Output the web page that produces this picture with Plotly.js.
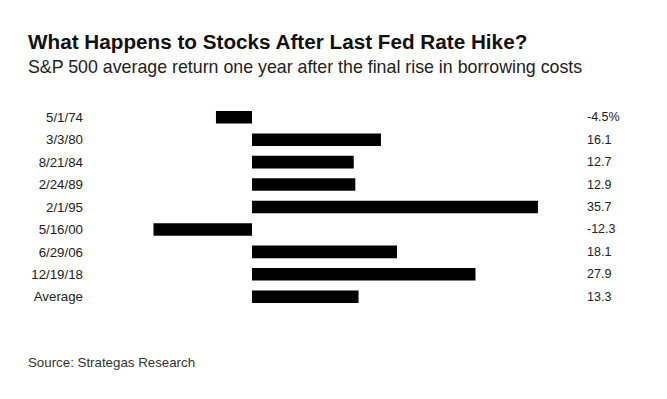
<!DOCTYPE html>
<html>
<head>
<meta charset="utf-8">
<script src="https://cdn.plot.ly/plotly-3.0.1.min.js"></script>
<style>body{margin:0;background:#fff;}#chart{width:667px;height:399px;}</style>
</head>
<body>
<div id="chart"></div>
<script>
const categories = ["5/1/74", "3/3/80", "8/21/84", "2/24/89", "2/1/95", "5/16/00", "6/29/06", "12/19/18", "Average"];
const returns = [-4.5, 16.1, 12.7, 12.9, 35.7, -12.3, 18.1, 27.9, 13.3];
const valueLabels = ["-4.5%", "16.1", "12.7", "12.9", "35.7", "-12.3", "18.1", "27.9", "13.3"];
const titleText = "What Happens to Stocks After Last Fed Rate Hike?";
const subtitleText = "S&P 500 average return one year after the final rise in borrowing costs";
const sourceText = "Source: Strategas Research";

const fontFam = "Liberation Sans, Arial, sans-serif";
const labelX = 41.6;

const annotations = categories.map((c, i) => ({
  x: labelX, y: c, xref: "x", yref: "y", text: valueLabels[i],
  showarrow: false, xanchor: "left", yanchor: "middle",
  font: {family: fontFam, size: 12.5, color: "#222"}
}));
annotations.push({
  x: 26/667, y: 1 - 67/399, xref: "paper", yref: "paper", text: subtitleText,
  showarrow: false, xanchor: "left", yanchor: "middle",
  font: {family: fontFam, size: 17.8, color: "#222"}
});
annotations.push({
  x: 26/667, y: 1 - 362/399, xref: "paper", yref: "paper", text: sourceText,
  showarrow: false, xanchor: "left", yanchor: "middle",
  font: {family: fontFam, size: 13.3, color: "#333"}
});
const m = {l: 88, r: 67, t: 106, b: 91};
const plotW = 667 - m.l - m.r, plotH = 399 - m.t - m.b;
annotations.forEach(a => {
  if (a.xref === "paper") {
    const px = a.x * 667, py = (1 - a.y) * 399;
    a.x = (px - m.l) / plotW;
    a.y = 1 - (py - m.t) / plotH;
  }
});

const trace = {
  type: "bar", orientation: "h",
  x: returns, y: categories,
  marker: {color: "#000"},
  width: 0.56,
  hoverinfo: "none"
};

const layout = {
  width: 667, height: 399,
  margin: m,
  paper_bgcolor: "#fff", plot_bgcolor: "#fff",
  showlegend: false,
  title: {
    text: "<b>" + titleText + "</b>",
    xref: "container", yref: "container",
    x: 28/667, xanchor: "left",
    y: 1 - 42/399, yanchor: "middle",
    font: {family: fontFam, size: 20.7, color: "#111"}
  },
  xaxis: {
    range: [-(252 - m.l) / 8.01, (667 - m.r - 252) / 8.01],
    showgrid: false, zeroline: false, showticklabels: false, ticks: "", showline: false,
    fixedrange: true
  },
  yaxis: {
    type: "category", range: [8.5, -0.5],
    showgrid: false, zeroline: false, ticks: "", showline: false,
    tickfont: {family: fontFam, size: 13.3, color: "#222"},
    ticklabelstandoff: 4,
    fixedrange: true
  },
  annotations: annotations
};

Plotly.newPlot("chart", [trace], layout, {displayModeBar: false, staticPlot: true});
</script>
</body>
</html>
